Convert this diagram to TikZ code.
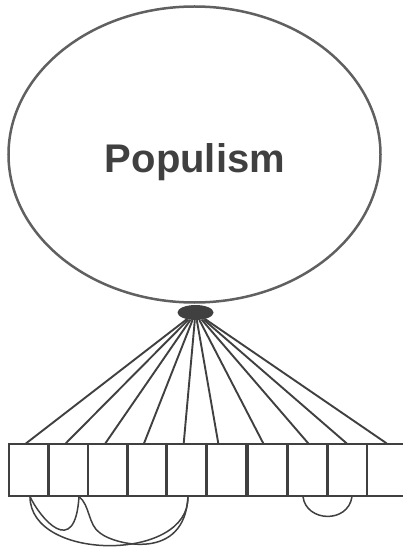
\documentclass[tikz,border=0pt]{standalone}
\usepackage{fontspec}
\setmainfont{Liberation Sans}
\usepackage{xcolor}
\usepackage{tikz}
\usetikzlibrary{shapes.geometric}
\definecolor{ink}{RGB}{64,64,64}
\definecolor{rim}{RGB}{96,96,96}

\begin{document}
\begin{tikzpicture}[x=1pt,y=-1pt,
    factor/.style={draw=rim,line width=2.5pt,ellipse,inner sep=0pt,
      minimum width=372pt,minimum height=296pt},
    item/.style={draw=ink,line width=1.7pt,rectangle,inner sep=0pt,
      minimum width=38.5pt,minimum height=51.5pt},
    load/.style={draw=ink,line width=1.9pt},
    resid/.style={draw=ink,line width=1.5pt}]
  \useasboundingbox (0,0) rectangle (402,548);
  \node[factor] (pop) at (194.5,154.5) {};
  \node[text=ink,anchor=base,font=\fontsize{40}{48}\selectfont\bfseries]
    (lbl) at (195,172.7) {Populism};
  \node[ellipse,fill=ink,inner sep=0pt,minimum width=36pt,minimum height=15pt]
    (hub) at (195.5,312.5) {};
  \foreach \i/\x/\dx in {1/28.5/-2.5,2/68.5/-2.8,3/107.5/-2.2,4/146.9/-2.9,
      5/186.4/-2.7,6/226.6/-8.3,7/267.4/-4.1,8/307.5/0.8,9/347.5/-0.8,
      10/386.5/0.2}
  {
    \node[item] (b\i) at (\x,470) {};
    \draw[load] (hub) -- ([xshift=\dx pt]b\i.north);
  }
  % correlated residuals
  \draw[resid] ([xshift=1.5pt]b1.south) .. controls (40,518) and (75,560) .. ([xshift=10.5pt]b2.south);
  \draw[resid] ([xshift=1.5pt]b1.south) .. controls (30,562) and (190,562) .. ([xshift=1.5pt]b5.south);
  \draw[resid] ([xshift=10.5pt]b2.south) .. controls (90,505) and (88,525) .. (100,533)
    .. controls (115,545) and (185,562) .. ([xshift=1.5pt]b5.south);
  \draw[resid] ([xshift=-4.5pt]b8.south) .. controls (306,522) and (348,524) .. ([xshift=4.5pt]b9.south);
\end{tikzpicture}
\end{document}
